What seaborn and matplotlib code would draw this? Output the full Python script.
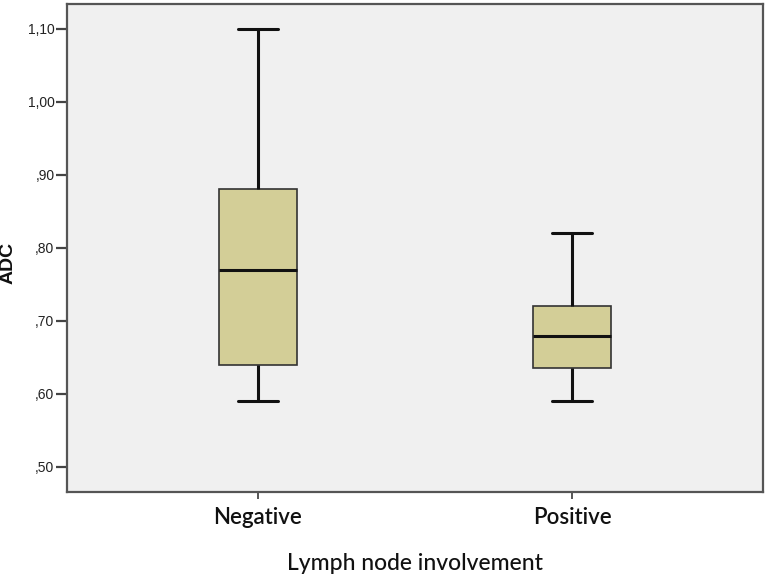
import numpy as np
import pandas as pd
import matplotlib
matplotlib.use('Agg')
import matplotlib.pyplot as plt
import seaborn as sns

# Five-number summaries (min, Q1, median, Q3, max)
groups = ['Negative', 'Positive']
negative_adc = [0.59, 0.64, 0.77, 0.88, 1.10]
positive_adc = [0.59, 0.635, 0.68, 0.72, 0.82]
y_ticks = [0.50, 0.60, 0.70, 0.80, 0.90, 1.00, 1.10]
y_tick_labels = [',50', ',60', ',70', ',80', ',90', '1,00', '1,10']

df = pd.DataFrame({
    'group': [groups[0]] * len(negative_adc) + [groups[1]] * len(positive_adc),
    'ADC': negative_adc + positive_adc,
})

sns.set_theme(style='white')
plt.rcParams['font.family'] = ['Liberation Sans', 'DejaVu Sans']

fig = plt.figure(figsize=(7.68, 5.74), dpi=100)
ax = fig.add_axes([0.0872, 0.1429, 0.9063, 0.8502])
ax.set_facecolor('#f0f0f0')

line_kw = dict(color='#111111', linewidth=2.2)
sns.boxplot(data=df, x='group', y='ADC', order=groups, ax=ax,
            whis=(0, 100), width=0.25, color='#d3ce97', saturation=1,
            linecolor='#111111', linewidth=1.2,
            boxprops=dict(facecolor='#d3ce97', edgecolor='#333333', linewidth=1.2),
            medianprops=dict(color='#111111', linewidth=2.2),
            whiskerprops=line_kw, capprops=line_kw, capwidths=0.13,
            showfliers=False)

ax.set_xlim(-0.608, 1.608)
ax.set_ylim(0.4658, 1.134)
ax.set_yticks(y_ticks)
ax.set_yticklabels(y_tick_labels, fontsize=10, color='#222222')

for s in ax.spines.values():
    s.set_visible(True)
    s.set_color('#555555')
    s.set_linewidth(1.6)

ax.tick_params(axis='y', direction='out', length=8, width=1.6, color='#444444', pad=1, left=True)
ax.tick_params(axis='x', direction='out', length=5, width=1.4, color='#555555', pad=6, bottom=True)

for lbl in ax.get_xticklabels():
    lbl.set_family(['Lato', 'DejaVu Sans'])
    lbl.set_fontweight('semibold')
    lbl.set_fontsize(16)
    lbl.set_color('#111111')

ax.set_xlabel('Lymph node involvement', fontsize=16.5, family=['Lato', 'DejaVu Sans'],
              fontweight='medium', color='#111111', labelpad=18)
ax.set_ylabel('ADC', fontsize=14, fontweight='bold', color='#111111')
ax.yaxis.set_label_coords(-0.072, 0.47)

fig.savefig('out.png', dpi=100)
